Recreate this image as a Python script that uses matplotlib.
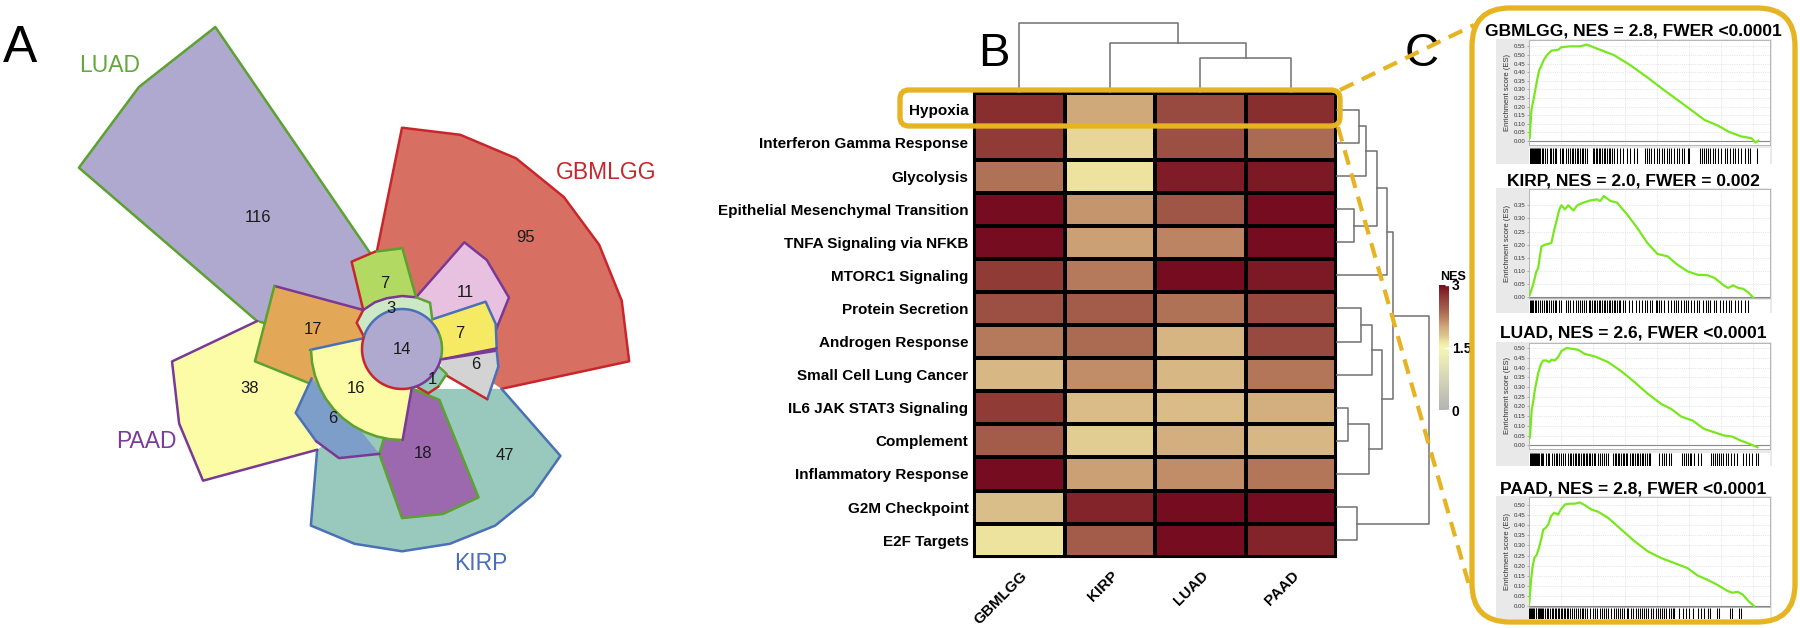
import numpy as np
import matplotlib
matplotlib.use('Agg')
import matplotlib.pyplot as plt
from matplotlib.colors import LinearSegmentedColormap
from matplotlib.patches import FancyBboxPatch
import matplotlib.transforms as mtransforms

plt.rcParams['font.family'] = ['Liberation Sans', 'DejaVu Sans']

# ======================= DATA =======================
# Panel A: overlap counts (draw order)
venn_sets = ['LUAD', 'GBMLGG', 'PAAD', 'KIRP']
venn_counts = [116, 95, 47, 38, 18, 17, 11, 7, 6, 16, 7, 6, 3, 1, 14]

# Panel B: NES heatmap
pathways = ['Hypoxia', 'Interferon Gamma Response', 'Glycolysis',
            'Epithelial Mesenchymal Transition', 'TNFA Signaling via NFKB',
            'MTORC1 Signaling', 'Protein Secretion', 'Androgen Response',
            'Small Cell Lung Cancer', 'IL6 JAK STAT3 Signaling', 'Complement',
            'Inflammatory Response', 'G2M Checkpoint', 'E2F Targets']
cancers = ['GBMLGG', 'KIRP', 'LUAD', 'PAAD']
nes_gbmlgg = [2.8, 2.7, 2.3, 3.0, 3.0, 2.7, 2.55, 2.25, 1.88, 2.7, 2.45, 3.0, 1.83, 1.65]
nes_kirp   = [2.0, 1.7, 1.65, 2.1, 2.05, 2.25, 2.45, 2.35, 2.15, 1.85, 1.75, 2.05, 2.85, 2.45]
nes_luad   = [2.6, 2.55, 2.9, 2.5, 2.2, 3.0, 2.3, 1.9, 1.88, 1.85, 1.95, 2.15, 3.0, 3.0]
nes_paad   = [2.8, 2.35, 2.92, 3.0, 3.0, 2.92, 2.62, 2.6, 2.28, 1.95, 1.88, 2.28, 3.0, 2.85]
# dendrogram merges (node_a, node_b, height)
row_merges = [(0, 1, 23.3), (14, 2, 30), (3, 4, 18), (15, 16, 40.7), (17, 5, 50.7),
              (6, 7, 24.7), (19, 8, 35.7), (9, 10, 12.3), (21, 11, 33.3), (20, 22, 45.7),
              (18, 23, 57.3), (12, 13, 21.3), (24, 25, 93.3)]
col_merges = [(2, 3, 35), (1, 4, 50), (0, 5, 70)]

# Panel C: GSEA running enrichment scores (x = rank %, y = ES)
gsea_titles = ['GBMLGG, NES = 2.8, FWER <0.0001', 'KIRP, NES = 2.0, FWER = 0.002',
               'LUAD, NES = 2.6, FWER <0.0001', 'PAAD, NES = 2.8, FWER <0.0001']
gbm_rank = [0.3, 1.0, 2.0, 3.3, 4.2, 5.2, 6.1, 7.5, 9.3, 12.1, 13.5, 17.0, 21.2, 24.0, 28.2,
            35.1, 42.1, 49.1, 56.1, 63.0, 68.6, 72.8, 78.4, 82.6, 88.1, 92.3, 94.0, 95.1]
gbm_es = [0.02, 0.18, 0.25, 0.35, 0.41, 0.44, 0.47, 0.50, 0.525, 0.53, 0.545, 0.55, 0.55, 0.56,
          0.537, 0.50, 0.44, 0.37, 0.295, 0.225, 0.167, 0.123, 0.09, 0.056, 0.027, 0.017, -0.008, 0.002]
kirp_rank = [0.3, 1.7, 3.1, 3.8, 4.5, 5.2, 6.6, 7.9, 9.3, 10.3, 11.4, 12.6, 13.5, 14.9, 16.3, 18.4,
             20.1, 22.6, 25.4, 28.2, 29.6, 31.0, 33.8, 36.5, 40.7, 44.9, 49.1, 53.3, 57.5, 61.6,
             65.8, 70.0, 74.2, 77.0, 80.5, 82.6, 84.7, 86.8, 88.8, 90.9, 93.0]
kirp_es = [0.01, 0.048, 0.10, 0.11, 0.156, 0.194, 0.20, 0.203, 0.207, 0.25, 0.29, 0.334, 0.35,
           0.334, 0.35, 0.33, 0.35, 0.36, 0.368, 0.372, 0.366, 0.385, 0.366, 0.36, 0.315, 0.264,
           0.207, 0.165, 0.156, 0.124, 0.099, 0.086, 0.084, 0.074, 0.048, 0.036, 0.046, 0.036,
           0.033, 0.02, 0.0]
luad_rank = [0.4, 1.1, 1.8, 2.5, 3.2, 3.9, 5.0, 5.9, 7.3, 8.3, 9.4, 10.7, 12.1, 13.5, 15.6, 17.6,
             20.4, 23.1, 27.3, 32.8, 38.3, 43.8, 49.3, 54.8, 59.0, 63.1, 67.9, 72.7, 76.9, 81.0,
             84.4, 87.9, 90.6, 94.8]
luad_es = [0.041, 0.179, 0.23, 0.29, 0.333, 0.376, 0.419, 0.436, 0.436, 0.428, 0.44, 0.436, 0.454,
           0.485, 0.50, 0.497, 0.491, 0.47, 0.457, 0.428, 0.381, 0.325, 0.265, 0.213, 0.187, 0.148,
           0.127, 0.084, 0.067, 0.05, 0.045, 0.024, 0.012, -0.01]
paad_rank = [0.1, 0.8, 1.4, 2.2, 3.2, 4.1, 5.2, 5.9, 6.9, 8.0, 9.1, 10.5, 12.1, 13.2, 14.9, 16.9,
             19.0, 21.1, 23.1, 25.9, 28.7, 32.8, 38.3, 43.8, 49.3, 54.8, 60.3, 65.8, 70.0, 74.1,
             78.2, 82.4, 84.4, 86.5, 88.6, 91.3, 93.4]
paad_es = [0.013, 0.121, 0.188, 0.238, 0.254, 0.287, 0.337, 0.379, 0.387, 0.404, 0.445, 0.462,
           0.453, 0.478, 0.503, 0.507, 0.507, 0.513, 0.50, 0.478, 0.467, 0.437, 0.379, 0.321,
           0.271, 0.238, 0.213, 0.188, 0.151, 0.13, 0.105, 0.075, 0.066, 0.071, 0.058, 0.022, 0.0]
# gene-set hit positions (rank %)
gbm_hits = [0.3, 0.7, 1.1, 1.5, 2.0, 2.4, 2.8, 3.2, 3.6, 4.0, 4.5, 5.2, 5.9, 6.6, 7.3, 8.6, 9.3,
            10.0, 10.7, 11.4, 12.8, 13.5, 14.2, 15.3, 16.3, 17.0, 17.7, 18.4, 19.1, 19.8, 20.5,
            21.2, 21.9, 22.6, 23.3, 24.0, 26.5, 27.1, 27.6, 28.2, 28.9, 29.6, 30.3, 31.0, 31.7,
            32.4, 33.1, 33.8, 34.4, 35.1, 36.5, 37.9, 39.1, 40.7, 42.1, 43.5, 44.9, 48.0, 48.8,
            49.8, 50.8, 51.9, 53.0, 54.0, 55.0, 56.1, 57.2, 58.2, 59.1, 60.3, 61.4, 62.3, 63.3,
            64.4, 65.8, 66.5, 71.1, 71.7, 72.5, 73.5, 74.2, 75.3, 76.3, 77.3, 78.4, 79.5, 81.2,
            82.3, 83.3, 84.7, 85.6, 86.8, 88.1, 89.5, 90.7, 91.6, 94.8]
kirp_hits = [0.3, 0.8, 1.3, 1.8, 2.3, 2.8, 3.8, 4.5, 5.2, 6.1, 7.0, 7.5, 8.4, 9.3, 10.0, 10.7,
             11.4, 12.6, 13.1, 15.3, 16.3, 17.0, 18.4, 19.5, 20.4, 21.2, 22.0, 22.9, 23.7, 24.7,
             25.4, 26.1, 26.8, 27.5, 28.2, 28.9, 29.6, 30.3, 31.0, 31.7, 32.4, 33.1, 33.8, 34.4,
             35.1, 35.8, 36.5, 37.2, 37.9, 39.1, 40.0, 41.4, 42.8, 44.2, 45.6, 47.0, 48.0, 49.1,
             50.2, 51.2, 52.6, 53.3, 54.0, 54.7, 56.1, 57.5, 58.9, 60.3, 60.9, 61.9, 63.0, 64.2,
             65.1, 66.1, 67.2, 68.6, 69.7, 70.7, 72.1, 73.5, 74.2, 75.3, 76.7, 77.7, 79.1, 80.5,
             81.9, 82.8, 84.0, 85.4, 86.8, 88.1, 89.5, 90.7]
luad_hits = [0.4, 0.8, 1.2, 1.7, 2.1, 2.5, 3.0, 3.4, 3.9, 4.3, 4.8, 5.2, 6.0, 6.9, 7.7, 8.5, 9.4,
             10.2, 11.0, 11.8, 12.5, 13.4, 14.3, 15.1, 16.0, 17.0, 17.6, 18.3, 18.9, 19.6, 20.2,
             20.9, 21.5, 22.2, 22.8, 23.5, 24.1, 24.8, 25.5, 26.1, 26.9, 27.5, 28.7, 29.4, 30.2,
             31.0, 32.0, 32.8, 34.8, 35.6, 36.2, 36.9, 37.5, 38.2, 38.8, 39.5, 40.2, 40.8, 41.9,
             42.6, 43.3, 44.0, 44.7, 45.4, 46.0, 46.8, 47.5, 48.2, 48.9, 49.6, 50.3, 54.1, 55.0,
             56.0, 56.9, 58.0, 59.0, 63.4, 64.3, 65.1, 65.8, 66.6, 67.2, 68.6, 70.0, 71.3, 75.5,
             76.3, 77.1, 78.0, 78.9, 79.8, 80.7, 81.6, 82.5, 83.7, 85.1, 86.5, 88.6, 89.9, 91.3,
             92.7, 94.1, 95.0]
paad_hits = [0.1, 0.5, 0.9, 1.4, 1.8, 2.2, 2.7, 3.1, 3.6, 4.0, 4.5, 4.9, 5.2, 5.9, 6.6, 7.3, 8.0,
             8.7, 9.4, 10.1, 10.7, 11.3, 11.9, 12.5, 13.1, 13.8, 14.4, 15.0, 15.6, 16.3, 17.0,
             17.8, 18.6, 19.4, 20.2, 21.0, 21.8, 22.6, 23.4, 24.2, 25.2, 26.6, 27.5, 28.4, 29.3,
             30.2, 31.1, 31.9, 32.8, 34.2, 35.1, 36.0, 36.9, 37.8, 38.7, 39.6, 40.5, 41.0, 42.4,
             43.3, 44.2, 45.1, 46.0, 46.9, 47.8, 48.7, 49.3, 50.7, 51.6, 52.5, 53.4, 54.3, 55.2,
             56.1, 57.0, 57.9, 58.8, 59.7, 60.3, 62.4, 63.8, 65.2, 66.5, 67.9, 70.0, 71.3, 72.7,
             74.1, 75.2, 78.0, 78.9, 83.5, 84.4, 87.2, 87.9]

# ======================= FIGURE =======================
W, H = 1800, 628
fig = plt.figure(figsize=(W / 100, H / 100), dpi=100)


def px_axes(x0, y0, x1, y1, **kw):
    return fig.add_axes([x0 / W, 1 - y1 / H, (x1 - x0) / W, (y1 - y0) / H], **kw)


# ---------------- Panel A ----------------
CG, CR, CP, CB = '#5ba22f', '#c9262c', '#7b3996', '#4a70b8'
LAV = '#afa8cf'


def arc(a1, a2, r, n=12):
    return [(a, r) for a in np.linspace(a1, a2, n)]


venn_layout = [
    dict(fill=LAV, label=(137.7, 195), outline=[
        (CG, [(106.9, 92.7), (120.1, 372.2), (135.1, 371.3), (150.7, 370.5), (169.1, 147.6), (180, 40)]),
        (None, [(180, 40), (106.9, 92.7)])]),
    dict(fill='#d76f63', label=(42.2, 166.7), outline=[
        (CR, [(106.9, 92.7), (90, 221.3), (74.8, 222), (59.1, 222.2), (43.2, 222), (27.9, 223),
              (12.4, 225), (-3.1, 227.5), (-21.8, 107.2)]),
        (None, [(-21.8, 107.2), (0, 40), (106.9, 92.7)])]),
    dict(fill='#99c9bc', label=(-46.1, 148.4), outline=[
        (CB, [(-21.8, 107.2), (-34, 191.1), (-48.2, 196.1), (-62.2, 199.7), (-76.2, 200.6),
              (-90, 202.3), (-103.7, 200.5), (-117.3, 198.7), (-130.1, 131.7)]),
        (None, [(-130.1, 131.7), (-90, 40), (-21.8, 107.2)])]),
    dict(fill='#fcfca6', label=(194.4, 157.7), outline=[
        (CP, [(169.1, 147.6), (183.1, 230.3), (198.5, 235), (213.5, 238.6), (229.9, 131.7)]),
        (None, [(229.9, 131.7), (200, 80), (169.1, 147.6)])]),
    dict(fill='#9c69ae', label=(-78.8, 107), outline=[
        (CG, [(-95, 40), (-102.2, 107.3), (-90, 169.1), (-76.1, 170), (-62.7, 167),
              (-53.7, 63.2), (-76.1, 40.5)]),
        (None, [(-76.1, 40.5), (-95, 40)])]),
    dict(fill='#e3a857', label=(167.6, 91.4), outline=[
        (CP, [(134.8, 55), (153.7, 142.3)]),
        (CG, [(153.7, 142.3), (184.8, 147.6), (201.9, 95.9)]),
        (None, [(201.9, 95.9), (200, 40), (162.4, 40.6), (134.8, 55)])]),
    dict(fill='#e8c1e0', label=(41.8, 84.5), outline=[
        (CP, [(10.6, 94.9), (25.7, 118.7), (46.4, 122.9), (59.7, 123.6), (74.8, 53.6)]),
        (None, [(74.8, 53.6), (30, 42), (10.6, 94.9)])]),
    dict(fill='#b2da63', label=(105.1, 68), outline=[
        (CG, [(74.8, 53.6), (89.8, 100.7), (105.5, 101)]),
        (CR, [(105.5, 101), (120, 100.8), (134.8, 55)]),
        (None, [(134.8, 55), (105, 50), (74.8, 53.6)])]),
    dict(fill='#7c9ec9', label=(225, 98), outline=[
        (CB, [(198, 95), (211, 124), (227, 126)]),
        (CP, [(227, 126), (240, 126), (257.8, 107.3)]),
        (None, [(257.8, 107.3), (230, 85), (198, 95)])]),
    dict(fill='#fcfca6', label=(220.5, 60.5), outline=[
        (CB, [(164.5, 40), (180.6, 92)]),
        (CG, arc(180.6, 270.4, 91)),
        (CP, [(270.4, 91), (283.9, 40.5)]),
        (None, arc(283.9, 164.5, 40))]),
    dict(fill='#f6e964', label=(14.7, 59.2), outline=[
        (CB, [(44.4, 42.4), (29.5, 96.1), (15, 97), (0.4, 94.7)]),
        (CP, [(0.4, 94.7), (-14.3, 41.6)]),
        (None, arc(-14.3, 44.4, 41))]),
    dict(fill='#d3d3d3', label=(-11.7, 75.6), outline=[
        (CP, [(-14.3, 41.6), (-1, 94.7)]),
        (CB, [(-1, 94.7), (-10.4, 97.9), (-30.5, 99)]),
        (CR, [(-30.5, 99), (-30.8, 52)]),
        (None, [(-30.8, 52), (-20, 40), (-14.3, 41.6)])]),
    dict(fill='#cde8c5', label=(105.1, 42.2), outline=[
        (None, arc(44.4, 162, 40)),
        (CR, [(162, 40), (149.9, 52.4), (134.8, 55)]),
        (CP, [(134.8, 55), (120, 54), (106.8, 53), (90, 53), (74.8, 53.6)]),
        (CG, [(74.8, 53.6), (58.8, 54.1), (44.4, 42.4)])]),
    dict(fill='#99c9bc', label=(-45.3, 43.6), outline=[
        (None, [(-68.7, 40.5), (-25, 40)]),
        (CG, [(-25, 40), (-29.2, 51.2), (-46.1, 52.3)]),
        (CR, [(-46.1, 52.3), (-59.3, 51.5), (-68.7, 40.5)])]),
    dict(fill=LAV, label=(0, 0), outline=[
        (CB, arc(23, 163, 40, 30)), (CR, arc(163, 283, 40, 30)),
        (CP, arc(283, 348, 40, 16)), (CG, arc(348, 383, 40, 10))]),
]


def pol(a, r):
    t = np.deg2rad(a)
    return r * np.cos(t), r * np.sin(t)


CX, CY = 402, 349
ax_a = px_axes(0, 0, 650, 628)
ax_a.set_xlim(-CX, 650 - CX)
ax_a.set_ylim(CY - 628, CY)
ax_a.axis('off')
for k, (cnt, reg) in enumerate(zip(venn_counts, venn_layout)):
    z = 2 + k
    pts = [p for piece in reg['outline'] for p in piece[1]]
    xy = np.array([pol(a, r) for a, r in pts])
    ax_a.fill(xy[:, 0], xy[:, 1], color=reg['fill'], lw=0, zorder=z)
    for col, piece in reg['outline']:
        if col is None:
            continue
        pxy = np.array([pol(a, r) for a, r in piece])
        ax_a.plot(pxy[:, 0], pxy[:, 1], color=col, lw=1.8, solid_capstyle='round',
                  solid_joinstyle='round', zorder=z + 0.5)
    lx, ly = pol(*reg['label'])
    ax_a.text(lx, ly, str(cnt), ha='center', va='center', fontsize=12, color='#1a1a1a', zorder=100)

set_label_pos = {'LUAD': (78.8, 65.3), 'GBMLGG': (555.4, 172.9), 'PAAD': (116, 442), 'KIRP': (454, 563)}
set_colors = {'LUAD': '#62a83a', 'GBMLGG': '#c9262c', 'PAAD': '#7d3a98', 'KIRP': '#4a6fb5'}
for s in venn_sets:
    x, y = set_label_pos[s]
    ax_a.text(x - CX, CY - y, s, ha='left', va='center', fontsize=16.5, color=set_colors[s], zorder=100)

# ---------------- Panel B ----------------
cmap = LinearSegmentedColormap.from_list('nes', [
    (0.0, '#b3b3b3'), (0.25, '#d5d5b8'), (0.5, '#f7f6b4'), (0.55, '#ede29e'),
    (0.6, '#dcc28c'), (0.667, '#d0a97b'), (0.733, '#bc8462'), (0.8, '#a6634d'),
    (0.867, '#994a40'), (0.933, '#892e2e'), (1.0, '#760c20')])
nes = np.column_stack([nes_gbmlgg, nes_kirp, nes_luad, nes_paad])

HX0, HX1, HY0, HY1 = 974, 1336, 93.3, 556.7
ax_h = px_axes(HX0, HY0, HX1, HY1)
mesh = ax_h.pcolormesh(np.arange(len(cancers) + 1), np.arange(len(pathways) + 1), nes,
                       cmap=cmap, vmin=0, vmax=3, edgecolors='black', linewidth=1.5)
ax_h.set_xlim(0, len(cancers))
ax_h.set_ylim(len(pathways), 0)
ax_h.set_yticks(np.arange(len(pathways)) + 0.5)
ax_h.set_yticklabels(pathways, fontsize=11, fontweight='bold')
ax_h.set_xticks(np.arange(len(cancers)) + 0.5)
ax_h.set_xticklabels(cancers, fontsize=11, fontweight='bold', rotation=45, ha='right',
                     va='center', rotation_mode='anchor')
ax_h.tick_params(axis='y', length=0, pad=4)
ax_h.tick_params(axis='x', length=0, pad=12)
offset = mtransforms.ScaledTranslation(6 / 100, 0, fig.dpi_scale_trans)
for lab in ax_h.get_xticklabels():
    lab.set_transform(lab.get_transform() + offset)
for sp in ax_h.spines.values():
    sp.set_linewidth(1.5)


def draw_dendro(ax, merges, n, orient):
    pos = {i: i + 0.5 for i in range(n)}
    hgt = {i: 0.0 for i in range(n)}
    for k, (a, b, h) in enumerate(merges):
        xs = [pos[a], pos[a], pos[b], pos[b]]
        ys = [hgt[a], h, h, hgt[b]]
        if orient == 'top':
            ax.plot(xs, ys, color='#707070', lw=1.1)
        else:
            ax.plot(ys, xs, color='#707070', lw=1.1)
        pos[n + k] = (pos[a] + pos[b]) / 2
        hgt[n + k] = h


ax_dt = px_axes(HX0, 15, HX1, HY0)
draw_dendro(ax_dt, col_merges, len(cancers), 'top')
ax_dt.set_xlim(0, len(cancers))
ax_dt.set_ylim(0, HY0 - 15)
ax_dt.axis('off')

ax_dr = px_axes(HX1, HY0, 1440, HY1)
draw_dendro(ax_dr, row_merges, len(pathways), 'right')
ax_dr.set_ylim(len(pathways), 0)
ax_dr.set_xlim(0, 104)
ax_dr.axis('off')

cax = px_axes(1439, 285, 1449, 410)
cb = fig.colorbar(mesh, cax=cax, ticks=[0, 1.5, 3])
cb.outline.set_visible(False)
cax.set_yticklabels(['0', '1.5', '3'], fontsize=10, fontweight='bold')
cax.tick_params(direction='in', color='white', length=3, width=1, pad=2)
fig.text(1440 / W, 1 - 277 / H, 'NES', fontsize=9, fontweight='bold', ha='left', va='center')

# ---------------- Panel C ----------------
ranks = [gbm_rank, kirp_rank, luad_rank, paad_rank]
scores = [gbm_es, kirp_es, luad_es, paad_es]
hits = [gbm_hits, kirp_hits, luad_hits, paad_hits]
es_boxes = [(39.6, 144.8, 147.5, 163.6), (189.4, 298.5, 300, 313),
            (343, 449, 452.5, 466), (497, 606.5, 607.5, 619)]
es_ylims = [(-0.0215, 0.589), (-0.004, 0.41), (-0.019, 0.526), (-0.002, 0.54)]
es_ytop = [0.55, 0.35, 0.50, 0.50]
title_y = [30.8, 181, 333.5, 489.4]

for i in range(4):
    t0, t1, h0, h1 = es_boxes[i]
    bg = px_axes(1496, t0 - 1, 1772, h1)
    bg.set_facecolor('#e9e9e9')
    bg.set_xticks([]); bg.set_yticks([])
    for sp in bg.spines.values():
        sp.set_visible(False)
    ax = px_axes(1529, t0, 1770, t1)
    ax.set_facecolor('white')
    ax.plot(ranks[i], scores[i], color='#78e81e', lw=1.6, zorder=3)
    ax.axhline(0, color='#888888', lw=0.8, zorder=2)
    ax.set_xlim(0, 100)
    ax.set_ylim(*es_ylims[i])
    yt = np.round(np.arange(0, es_ytop[i] + 1e-9, 0.05), 2)
    ax.set_yticks(yt)
    ax.set_yticklabels(['%.2f' % v for v in yt], fontsize=4.3, color='#333333')
    ax.set_xticks(np.arange(13.3, 100, 13.3))
    ax.set_xticklabels([])
    ax.tick_params(length=1.5, width=0.4, pad=1, color='#777777')
    ax.tick_params(axis='x', length=0)
    ax.grid(True, color='#d0d0d0', lw=0.5, ls=':')
    ax.set_ylabel('Enrichment score (ES)', fontsize=5.5, color='#333333', labelpad=2)
    for sp in ax.spines.values():
        sp.set_color('#b5b5b5'); sp.set_linewidth(0.7)
    hx = px_axes(1529, h0, 1770, h1)
    hx.set_facecolor('white')
    hx.vlines(hits[i], 0, 1, color='black', lw=0.75)
    hx.set_xlim(0, 100)
    hx.set_ylim(0, 1)
    hx.set_xticks([]); hx.set_yticks([])
    for sp in hx.spines.values():
        sp.set_visible(False)
    fig.text(1633 / W, 1 - title_y[i] / H, gsea_titles[i], ha='center', va='center',
             fontsize=12.5, fontweight='bold')

# ---------------- overlay decorations ----------------
ov = fig.add_axes([0, 0, 1, 1], zorder=10)
ov.set_xlim(0, W)
ov.set_ylim(H, 0)
ov.axis('off')
ov.patch.set_alpha(0)
GOLD = '#e6b422'
ov.add_patch(FancyBboxPatch((900, 90), 440, 36, boxstyle='round,pad=0,rounding_size=9',
                            fill=False, ec=GOLD, lw=3.8))
ov.add_patch(FancyBboxPatch((1472, 8), 323, 614, boxstyle='round,pad=0,rounding_size=38',
                            fill=False, ec=GOLD, lw=3.8))
ov.plot([1340, 1474], [90, 25], color=GOLD, lw=3, dashes=(3.6, 2.2))
ov.plot([1338, 1471], [127, 592], color=GOLD, lw=3, dashes=(3.6, 2.2))

fig.text(3 / W, 1 - 62 / H, 'A', fontsize=37, ha='left', va='baseline')
fig.text(978 / W, 1 - 66 / H, 'B', fontsize=34, ha='left', va='baseline')
fig.text(1405 / W, 1 - 66 / H, 'C', fontsize=34, ha='left', va='baseline')

fig.savefig('out.png', dpi=100)
